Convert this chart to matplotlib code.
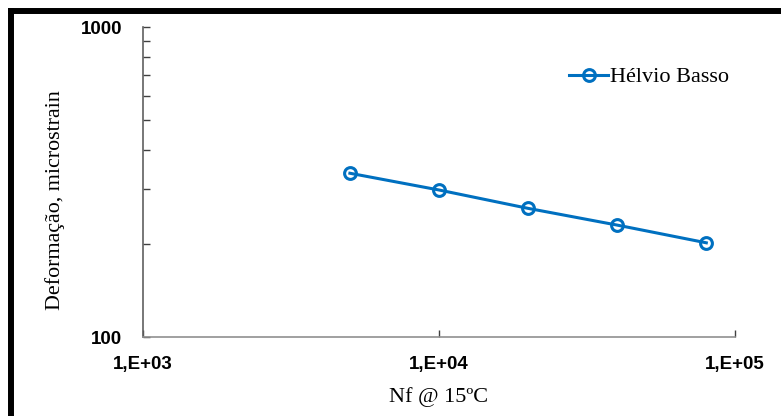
import numpy as np
import matplotlib.pyplot as plt
from matplotlib.lines import Line2D
from matplotlib.ticker import FixedLocator, FixedFormatter, LogLocator, NullFormatter

# Data
cycles = [5000, 10000, 20000, 40000, 80000]
strain = [337.5, 298, 260, 229.6, 201.3]
series_name = "Hélvio Basso"

x_ticks = [1e3, 1e4, 1e5]
x_tick_labels = ["1,E+03", "1,E+04", "1,E+05"]
y_ticks = [100, 1000]
y_tick_labels = ["100", "1000"]

blue = "#0070C0"
serif = ["Liberation Serif", "DejaVu Serif"]
sans = ["Liberation Sans", "DejaVu Sans"]

fig = plt.figure(figsize=(7.81, 4.16), dpi=100)
ax = fig.add_axes([143 / 781, 1 - 337 / 416, 592 / 781, 310 / 416])

ax.plot(cycles, strain, color=blue, lw=2.2, marker="o", ms=8.5,
        mfc="none", mec=blue, mew=2.2, label=series_name)

ax.set_xscale("log")
ax.set_yscale("log")
ax.set_xlim(1e3, 1e5)
ax.set_ylim(100, 1000)

ax.xaxis.set_major_locator(FixedLocator(x_ticks))
ax.xaxis.set_major_formatter(FixedFormatter(x_tick_labels))
ax.xaxis.set_minor_locator(FixedLocator([]))
ax.yaxis.set_major_locator(FixedLocator(y_ticks))
ax.yaxis.set_major_formatter(FixedFormatter(y_tick_labels))
ax.yaxis.set_minor_locator(LogLocator(base=10, subs=np.arange(2, 10)))
ax.yaxis.set_minor_formatter(NullFormatter())

ax.tick_params(axis="both", which="both", direction="in", color="#404040")
ax.tick_params(axis="both", which="major", length=5, width=1)
ax.tick_params(axis="y", which="minor", length=5, width=1)
ax.tick_params(axis="x", which="major", pad=14)
ax.tick_params(axis="y", which="major", pad=15)
for lab in ax.get_xticklabels() + ax.get_yticklabels():
    lab.set_family(sans)
    lab.set_fontweight("bold")
    lab.set_fontsize(13.5)

for s in ["top", "right"]:
    ax.spines[s].set_visible(False)
ax.spines["left"].set_color("#606060")
ax.spines["bottom"].set_color("#909090")
ax.spines["left"].set_linewidth(1.2)
ax.spines["bottom"].set_linewidth(1.2)

ax.set_xlabel("Nf @ 15ºC", family=serif, fontsize=16, labelpad=10)
ax.set_ylabel("Deformação, microstrain", family=serif, fontsize=15.8, labelpad=11)
ax.yaxis.label.set_y(0.44)

leg = ax.legend(loc="upper left", bbox_to_anchor=(0.705, 0.90), frameon=False,
                prop={"family": serif, "size": 16}, handlelength=1.75,
                handletextpad=0.1, borderaxespad=0)

# thick black frame (left and top edges visible)
fig.add_artist(Line2D([10.5 / 781, 10.5 / 781], [0, 1 - 10.5 / 416],
                      color="black", lw=4.3, transform=fig.transFigure,
                      solid_capstyle="projecting"))
fig.add_artist(Line2D([10.5 / 781, 1], [1 - 10.5 / 416, 1 - 10.5 / 416],
                      color="black", lw=4.3, transform=fig.transFigure,
                      solid_capstyle="projecting"))

fig.savefig("out.png", dpi=100)
